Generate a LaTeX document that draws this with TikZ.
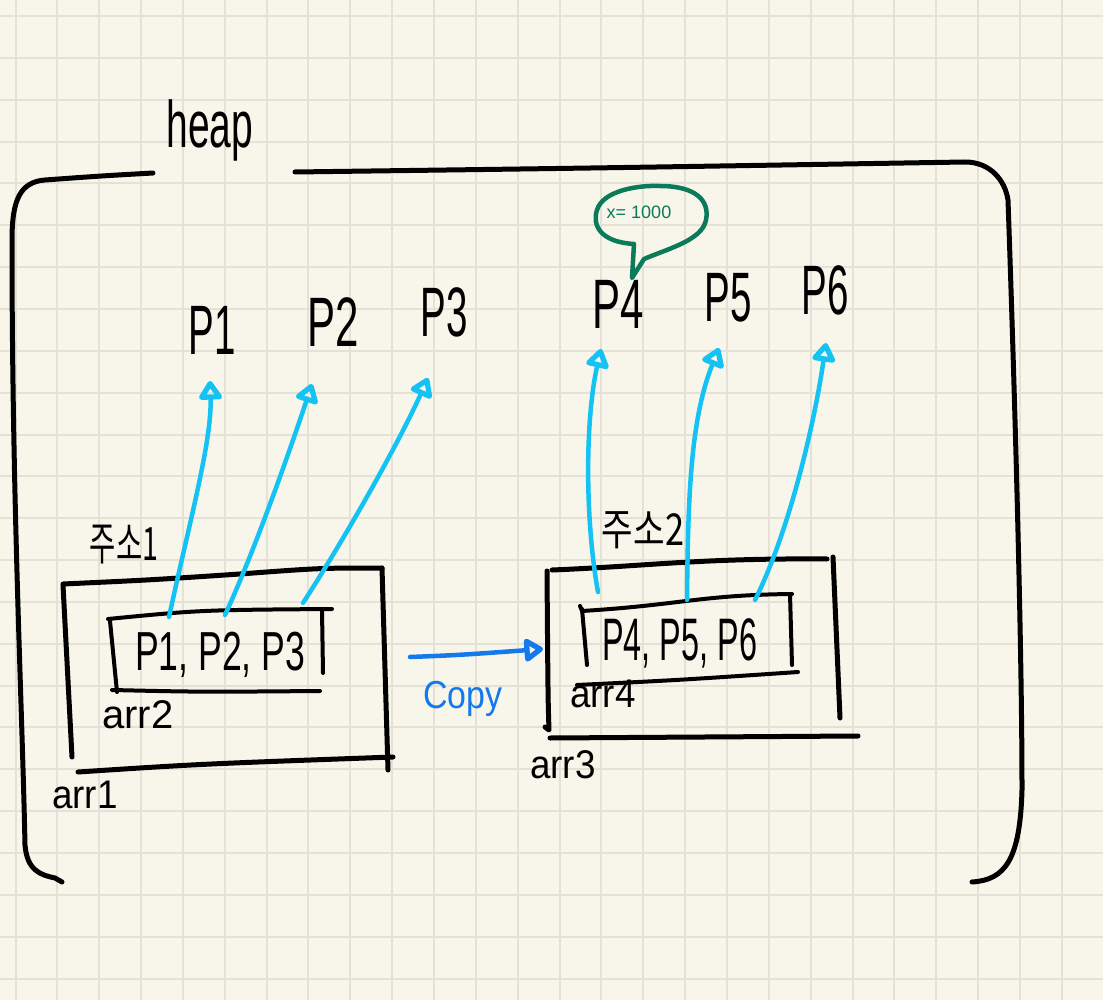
\documentclass[tikz,border=0pt]{standalone}
\usepackage{fontspec}
\usepackage{graphicx}
\setmainfont{Liberation Sans}
\newfontfamily\krfont{Noto Sans CJK KR}
\usetikzlibrary{arrows.meta}
\definecolor{paper}{HTML}{F8F6EA}
\definecolor{gridc}{HTML}{E4E2D6}
\definecolor{cyanarr}{HTML}{14C2F4}
\definecolor{copyblue}{HTML}{1479EA}
\definecolor{bubblec}{HTML}{0B7A58}
\newcommand\hwtext[3]{\scalebox{#2}[1]{\fontsize{#1}{#1}\selectfont #3}}
\begin{document}
\begin{tikzpicture}[x=1pt,y=-1pt,
  ink/.style={line width=5pt, line cap=round, line join=round, black},
  thinink/.style={line width=4pt, line cap=round, line join=round, black},
  gridline/.style={line width=2pt, gridc},
  headtip/.tip={Triangle[open,length=21pt,width=26pt,line width=0pt 1.4,round]},
  ptr/.style={line width=4.5pt, cyanarr, line cap=round, line join=round, -headtip},
  copyarrow/.style={line width=4.5pt, copyblue, line cap=round, line join=round, -headtip},
  lbl/.style={inner sep=0pt}]
\useasboundingbox (0,0) rectangle (1103,1000);
\fill[paper] (0,0) rectangle (1103,1000);
\foreach \i in {0,...,25} {\draw[gridline] ({15.5+41.85*\i},0) -- ({15.5+41.85*\i},1000);}
\foreach \j in {0,...,23} {\draw[gridline] (0,{16+41.85*\j}) -- (1103,{16+41.85*\j});}

% heap outline
\draw[ink] (153,173) .. controls (100,176) .. (45,180) .. controls (20,182) and (12,200) .. (12,240) .. controls (12,500) and (22,700) .. (25,845) .. controls (27,870) and (40,875) .. (55,878) -- (62,882);
\draw[ink] (295,172) .. controls (600,168) .. (965,162) .. controls (990,162) and (1005,180) .. (1008,200) .. controls (1015,400) and (1022,650) .. (1022,790) .. controls (1020,860) and (1005,880) .. (972,882);
\node[lbl] (heap) at (210,130) {\hwtext{66}{0.59}{heap}};

% P labels
\node[lbl] (p1) at (212,330) {\hwtext{70}{0.55}{P1}};
\node[lbl] (p2) at (333,322) {\hwtext{70}{0.6}{P2}};
\node[lbl] (p3) at (444,312) {\hwtext{70}{0.55}{P3}};
\node[lbl] (p4) at (618,304) {\hwtext{70}{0.6}{P4}};
\node[lbl] (p5) at (728,298) {\hwtext{70}{0.55}{P5}};
\node[lbl] (p6) at (825,290) {\hwtext{70}{0.55}{P6}};

% speech bubble
\draw[line width=4.5pt, bubblec, line join=round, line cap=round] (634,244) .. controls (600,242) and (592,225) .. (597,210) .. controls (603,190) and (640,185) .. (660,186) .. controls (695,186) and (710,200) .. (706,220) .. controls (702,240) and (670,248) .. (644,259) -- (632,278) -- (634,244);
\node[lbl, text=bubblec] (xval) at (639,212) {\hwtext{18}{1.0}{x= 1000}};

% arr1 box
\draw[ink] (63,584) .. controls (150,580) .. (240,574) .. controls (320,568) .. (382,568);
\draw[ink] (63,585) -- (72,757);
\draw[ink] (382,568) -- (388,770);
\draw[ink] (78,772) .. controls (200,764) .. (393,757);
% arr2 box
\draw[thinink] (108,619) .. controls (200,610) .. (332,609);
\draw[thinink] (110,621) -- (117,692);
\draw[thinink] (322,610) -- (323,673);
\draw[thinink] (112,690) .. controls (200,692) .. (320,691);
\node[lbl, anchor=base west] (in1) at (135,670) {\hwtext{55}{0.647}{P1, P2, P3}};
\node[lbl, anchor=base west] (arr2) at (102,728) {\hwtext{40}{1.0}{arr2}};
\node[lbl, anchor=base west] (arr1) at (52,808) {\hwtext{40}{0.92}{arr1}};
\node[lbl] (addr1) at (124,545) {\krfont\hwtext{46}{0.62}{주소1}};

% arr3 box
\draw[ink] (552,570) .. controls (650,566) and (700,558) .. (827,559);
\draw[ink] (547,571) .. controls (548,700) .. (549,730) -- (545,727);
\draw[ink] (833,557) -- (840,718);
\draw[ink] (550,738) -- (858,736);
% arr4 box
\draw[thinink] (582,611) .. controls (680,605) and (700,595) .. (792,594);
\draw[thinink] (580,606) -- (582,611);
\draw[thinink] (582,609) -- (587,665);
\draw[thinink] (790,594) -- (792,665);
\draw[thinink] (577,685) .. controls (680,680) .. (798,672);
\node[lbl, anchor=base west] (in2) at (602,660) {\hwtext{60}{0.54}{P4, P5, P6}};
\node[lbl, anchor=base west] (arr4) at (570,707) {\hwtext{40}{0.92}{arr4}};
\node[lbl, anchor=base west] (arr3) at (530,778) {\hwtext{40}{0.92}{arr3}};
\node[lbl] (addr2) at (643,530) {\krfont\hwtext{44}{0.78}{주소2}};

% pointer start/end coordinates
\coordinate (s1) at (169,617); \coordinate (t1) at (210,381);
\coordinate (s2) at (225,615); \coordinate (t2) at (312,384);
\coordinate (s3) at (303,603); \coordinate (t3) at (428,378);
\coordinate (s4) at (598,592); \coordinate (t4) at (601,349);
\coordinate (s5) at (687,600); \coordinate (t5) at (719,348);
\coordinate (s6) at (755,600); \coordinate (t6) at (826,343);
\draw[ptr] (s1) .. controls (190,520) and (212,440) .. (t1);
\draw[ptr] (s2) .. controls (255,550) and (290,450) .. (t2);
\draw[ptr] (s3) .. controls (350,530) and (400,440) .. (t3);
\draw[ptr] (s4) .. controls (585,520) and (585,420) .. (t4);
\draw[ptr] (s5) .. controls (688,500) and (690,420) .. (t5);
\draw[ptr] (s6) .. controls (790,530) and (815,420) .. (t6);

% copy arrow
\coordinate (c0) at (410,657); \coordinate (c1) at (543,649);
\draw[copyarrow] (c0) .. controls (460,655) .. (c1);
\node[lbl, anchor=base west, text=copyblue] (copy) at (423,708) {\hwtext{39}{0.87}{Copy}};
\end{tikzpicture}
\end{document}
